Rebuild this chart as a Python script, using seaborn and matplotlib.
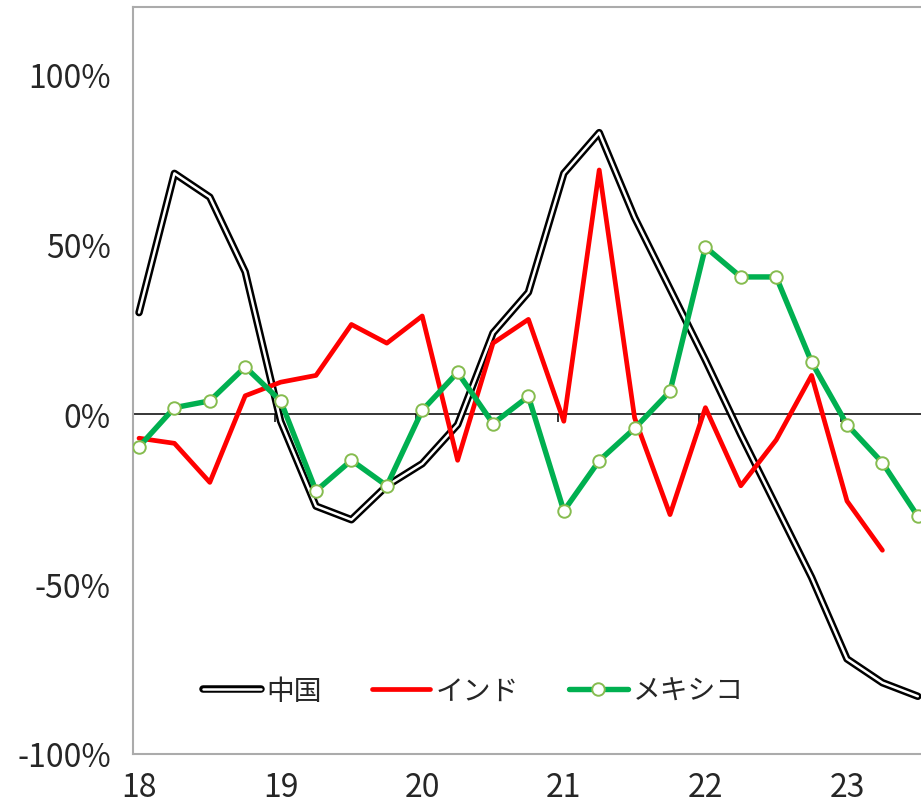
import numpy as np
import pandas as pd
import matplotlib
matplotlib.use("Agg")
import matplotlib.pyplot as plt
from matplotlib.lines import Line2D
from matplotlib.legend_handler import HandlerTuple
import seaborn as sns

# Quarterly year-on-year change (%), 2018 Q1 .. 2023 Q3
year_labels = ["18", "19", "20", "21", "22", "23"]
china = [30, 71, 64, 42, -2, -27, -31, -21, -14.5, -3, 24, 36,
         71, 83, 58, 37, 16, -6, -27, -48, -72, -79, -83]
india = [-7, -8.5, -20, 5.5, 9.5, 11.5, 26.5, 21, 29, -13.5, 21, 28,
         -2, 72, -1, -29.5, 2, -21, -7.5, 11.5, -25.5, -40, np.nan]
mexico = [-9.5, 2, 4, 14, 4, -22.5, -13.5, -21, 1.2, 12.4, -2.7, 5.3,
          -28.4, -13.6, -4.1, 6.8, 49.3, 40.5, 40.5, 15.4, -3, -14.2, -30]
y_ticks = [-100, -50, 0, 50, 100]

df = pd.DataFrame({"pos": np.arange(len(china)),
                   "中国": china, "インド": india, "メキシコ": mexico})

sns.set_style("white")
plt.rcParams["font.family"] = ["Noto Sans CJK JP", "DejaVu Sans"]
plt.rcParams["axes.unicode_minus"] = False

fig = plt.figure(figsize=(9.21, 8.03), dpi=100)
ax = fig.add_axes([133 / 921, 48 / 803, 788 / 921, 747 / 803])

GREEN = "#00B050"
RED = "#FF0000"
BLACK_W, CORE_W = 5.4, 1.8

# zero line with small year marks hanging below it
ax.axhline(0, color="black", lw=1.1, zorder=1.5)
year_pos = [4 * k - 0.17 for k in range(len(year_labels))]
ax.vlines(year_pos[1:], -2.2, 0, color="black", lw=1.1, zorder=1.5)

# China: black double line (black stroke with white core)
sns.lineplot(data=df, x="pos", y="中国", ax=ax, color="black", lw=BLACK_W,
             legend=False, zorder=3)
sns.lineplot(data=df, x="pos", y="中国", ax=ax, color="white", lw=CORE_W,
             legend=False, zorder=3.1)
# India
sns.lineplot(data=df, x="pos", y="インド", ax=ax, color=RED, lw=3.4,
             legend=False, zorder=4)
# Mexico with hollow markers
sns.lineplot(data=df, x="pos", y="メキシコ", ax=ax, color=GREEN, lw=3.9,
             marker="o", markersize=9, markerfacecolor="white",
             markeredgecolor="#86BC4F", markeredgewidth=1.4,
             legend=False, zorder=5)

ax.set_xlim(-0.17, 22.09)
ax.set_ylim(-100, 120)
ax.set_xticks([4 * k for k in range(len(year_labels))])
ax.set_xticklabels(year_labels)
ax.set_yticks(y_ticks)
ax.set_yticklabels([f"{v}%" for v in y_ticks])
ax.set_xlabel("")
ax.set_ylabel("")
ax.tick_params(axis="both", length=0, labelsize=23, colors="#262626")
ax.tick_params(axis="y", pad=16)
ax.tick_params(axis="x", pad=12)

for side in ["left", "top", "bottom"]:
    ax.spines[side].set_color("#ABABAB")
    ax.spines[side].set_linewidth(1.5)
ax.spines["right"].set_visible(False)

h_china = (Line2D([], [], color="black", lw=BLACK_W, solid_capstyle="round"),
           Line2D([], [], color="white", lw=CORE_W, solid_capstyle="round"))
h_india = Line2D([], [], color=RED, lw=3.4)
h_mexico = Line2D([], [], color=GREEN, lw=3.9, marker="o", markersize=9,
                  markerfacecolor="white", markeredgecolor="#86BC4F",
                  markeredgewidth=1.4)
ax.legend([h_china, h_india, h_mexico], ["中国", "インド", "メキシコ"],
          handler_map={tuple: HandlerTuple(ndivide=1)},
          loc="center", bbox_to_anchor=(0.432, 0.085), ncol=3,
          frameon=False, fontsize=20, handlelength=2.1, handletextpad=0.2,
          columnspacing=1.8, labelcolor="#262626")

fig.savefig("out.png", dpi=100)
